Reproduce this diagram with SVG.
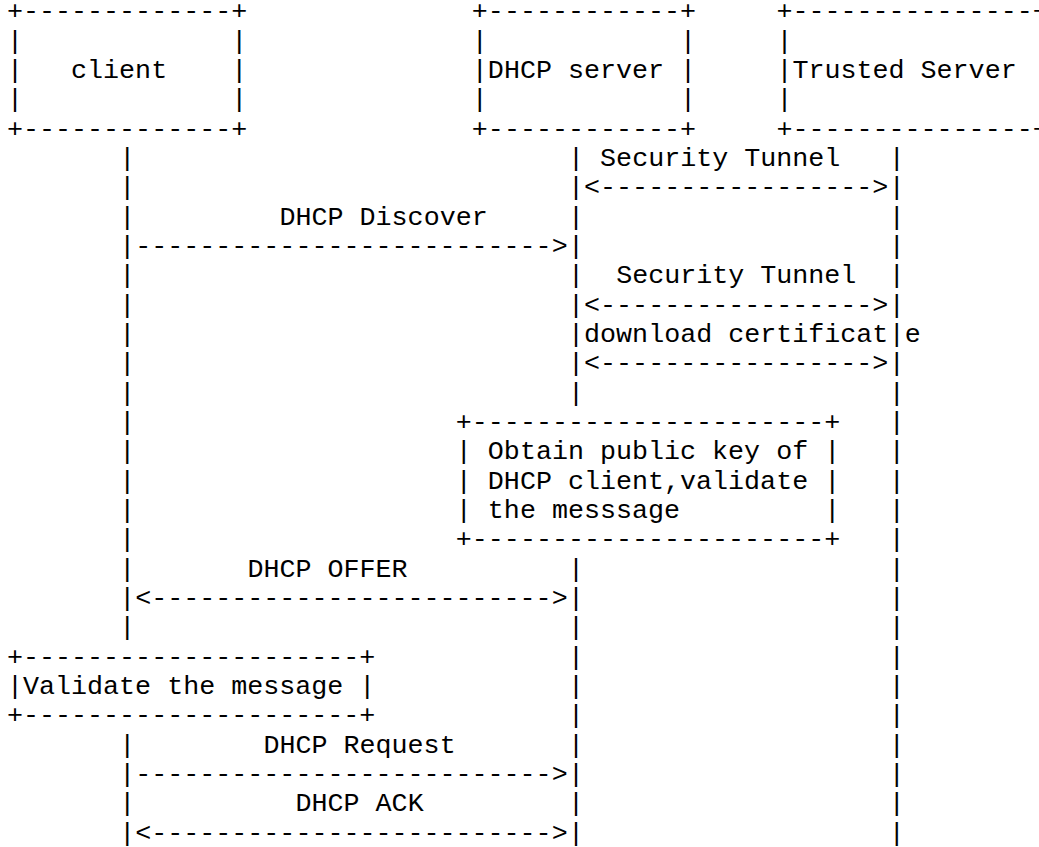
<svg xmlns="http://www.w3.org/2000/svg" width="1039" height="847" viewBox="0 0 1039 847">
  <style>
    text { font-family: "Liberation Mono", "DejaVu Sans Mono", monospace; font-size: 26.7px; fill: #000; white-space: pre; }
  </style>
  <rect width="1039" height="847" fill="#fff"/>

  <!-- character grid: column c starts at x = 7 + 16.03*c, row r baseline at y = 19.3 + 29.33*r -->

  <g id="node-client">
    <text x="7" y="19.3" xml:space="preserve">+-------------+</text>
    <text x="7" y="48.63" xml:space="preserve">|             |</text>
    <text x="7" y="77.96" xml:space="preserve">|   client    |</text>
    <text x="7" y="107.29" xml:space="preserve">|             |</text>
    <text x="7" y="136.62" xml:space="preserve">+-------------+</text>
  </g>

  <g id="node-dhcp-server">
    <text x="471.87" y="19.3" xml:space="preserve">+------------+</text>
    <text x="471.87" y="48.63" xml:space="preserve">|            |</text>
    <text x="471.87" y="77.96" xml:space="preserve">|DHCP server |</text>
    <text x="471.87" y="107.29" xml:space="preserve">|            |</text>
    <text x="471.87" y="136.62" xml:space="preserve">+------------+</text>
  </g>

  <g id="node-trusted-server">
    <text x="776.44" y="19.3" xml:space="preserve">+---------------+</text>
    <text x="776.44" y="48.63" xml:space="preserve">|               |</text>
    <text x="776.44" y="77.96" xml:space="preserve">|Trusted Server |</text>
    <text x="776.44" y="107.29" xml:space="preserve">|               |</text>
    <text x="776.44" y="136.62" xml:space="preserve">+---------------+</text>
  </g>

  <g id="node-obtain-key">
    <text x="455.84" y="429.92" xml:space="preserve">+----------------------+</text>
    <text x="455.84" y="459.25" xml:space="preserve">| Obtain public key of |</text>
    <text x="455.84" y="488.58" xml:space="preserve">| DHCP client,validate |</text>
    <text x="455.84" y="517.91" xml:space="preserve">| the messsage         |</text>
    <text x="455.84" y="547.24" xml:space="preserve">+----------------------+</text>
  </g>

  <g id="node-validate">
    <text x="7" y="664.56" xml:space="preserve">+---------------------+</text>
    <text x="7" y="693.89" xml:space="preserve">|Validate the message |</text>
    <text x="7" y="723.22" xml:space="preserve">+---------------------+</text>
  </g>

  <g id="connectors">
    <!-- lifelines -->
    <g id="lifeline-client">
      <text x="119.21" y="165.95">|<tspan x="119.21" dy="29.33">|</tspan><tspan x="119.21" dy="29.33">|</tspan><tspan x="119.21" dy="29.33">|</tspan><tspan x="119.21" dy="29.33">|</tspan><tspan x="119.21" dy="29.33">|</tspan><tspan x="119.21" dy="29.33">|</tspan><tspan x="119.21" dy="29.33">|</tspan><tspan x="119.21" dy="29.33">|</tspan><tspan x="119.21" dy="29.33">|</tspan><tspan x="119.21" dy="29.33">|</tspan><tspan x="119.21" dy="29.33">|</tspan><tspan x="119.21" dy="29.33">|</tspan><tspan x="119.21" dy="29.33">|</tspan><tspan x="119.21" dy="29.33">|</tspan><tspan x="119.21" dy="29.33">|</tspan><tspan x="119.21" dy="29.33">|</tspan></text>
      <text x="119.21" y="752.55">|<tspan x="119.21" dy="29.33">|</tspan><tspan x="119.21" dy="29.33">|</tspan><tspan x="119.21" dy="29.33">|</tspan></text>
    </g>
    <g id="lifeline-dhcp-server">
      <text x="568.05" y="165.95">|<tspan x="568.05" dy="29.33">|</tspan><tspan x="568.05" dy="29.33">|</tspan><tspan x="568.05" dy="29.33">|</tspan><tspan x="568.05" dy="29.33">|</tspan><tspan x="568.05" dy="29.33">|</tspan><tspan x="568.05" dy="29.33">|</tspan><tspan x="568.05" dy="29.33">|</tspan><tspan x="568.05" dy="29.33">|</tspan></text>
      <text x="568.05" y="576.57">|<tspan x="568.05" dy="29.33">|</tspan><tspan x="568.05" dy="29.33">|</tspan><tspan x="568.05" dy="29.33">|</tspan><tspan x="568.05" dy="29.33">|</tspan><tspan x="568.05" dy="29.33">|</tspan><tspan x="568.05" dy="29.33">|</tspan><tspan x="568.05" dy="29.33">|</tspan><tspan x="568.05" dy="29.33">|</tspan><tspan x="568.05" dy="29.33">|</tspan></text>
    </g>
    <g id="lifeline-trusted-server">
      <text x="888.65" y="165.95">|<tspan x="888.65" dy="29.33">|</tspan><tspan x="888.65" dy="29.33">|</tspan><tspan x="888.65" dy="29.33">|</tspan><tspan x="888.65" dy="29.33">|</tspan><tspan x="888.65" dy="29.33">|</tspan><tspan x="888.65" dy="29.33">|</tspan><tspan x="888.65" dy="29.33">|</tspan><tspan x="888.65" dy="29.33">|</tspan><tspan x="888.65" dy="29.33">|</tspan><tspan x="888.65" dy="29.33">|</tspan><tspan x="888.65" dy="29.33">|</tspan><tspan x="888.65" dy="29.33">|</tspan><tspan x="888.65" dy="29.33">|</tspan><tspan x="888.65" dy="29.33">|</tspan><tspan x="888.65" dy="29.33">|</tspan><tspan x="888.65" dy="29.33">|</tspan><tspan x="888.65" dy="29.33">|</tspan><tspan x="888.65" dy="29.33">|</tspan><tspan x="888.65" dy="29.33">|</tspan><tspan x="888.65" dy="29.33">|</tspan><tspan x="888.65" dy="29.33">|</tspan><tspan x="888.65" dy="29.33">|</tspan><tspan x="888.65" dy="29.33">|</tspan></text>
    </g>

    <!-- messages -->
    <g id="msg-tunnel-1">
      <text x="600.11" y="165.95">Security Tunnel</text>
      <text x="584.08" y="195.28">&lt;-----------------&gt;</text>
    </g>
    <g id="msg-discover">
      <text x="279.51" y="224.61">DHCP Discover</text>
      <text x="135.24" y="253.94">--------------------------&gt;</text>
    </g>
    <g id="msg-tunnel-2">
      <text x="616.14" y="283.27">Security Tunnel</text>
      <text x="584.08" y="312.6">&lt;-----------------&gt;</text>
    </g>
    <g id="msg-certificate">
      <text x="584.08" y="341.93">download certificat</text>
      <text x="904.68" y="341.93">e</text>
      <text x="584.08" y="371.26">&lt;-----------------&gt;</text>
    </g>
    <g id="msg-offer">
      <text x="247.45" y="576.57">DHCP OFFER</text>
      <text x="135.24" y="605.9">&lt;-------------------------&gt;</text>
    </g>
    <g id="msg-request">
      <text x="263.48" y="752.55">DHCP Request</text>
      <text x="135.24" y="781.88">--------------------------&gt;</text>
    </g>
    <g id="msg-ack">
      <text x="295.54" y="811.21">DHCP ACK</text>
      <text x="135.24" y="840.54">&lt;-------------------------&gt;</text>
    </g>
  </g>
</svg>
